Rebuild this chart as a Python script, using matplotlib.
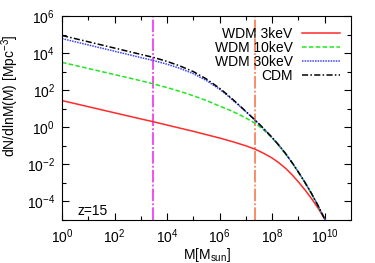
import numpy as np
import matplotlib
matplotlib.use("Agg")
import matplotlib.pyplot as plt
from matplotlib.ticker import FixedLocator, FixedFormatter

plt.rcParams["font.family"] = ["Liberation Sans", "DejaVu Sans"]
plt.rcParams["mathtext.default"] = "regular"

# log10 of mass [Msun] and log10 of dN/dlnM [Mpc^-3]
log_m = [0, 1, 2, 3, 3.5, 4, 4.5, 5, 5.5, 6, 6.25, 6.5, 6.75, 7, 7.25, 7.5, 7.75,
         8, 8.25, 8.5, 8.75, 9, 9.25, 9.5, 9.75, 10, 10.25]

log_cdm   = [4.95, 4.61, 4.27, 3.93, 3.76, 3.55, 3.30, 3.00, 2.60, 2.10, 1.81, 1.50, 1.18,
             0.85, 0.52, 0.18, -0.18, -0.55, -0.96, -1.40, -1.89, -2.42, -2.98, -3.58,
             -4.24, -4.95, -5.75]
log_wdm30 = [4.78, 4.44, 4.10, 3.76, 3.59, 3.40, 3.17, 2.89, 2.52, 2.05, 1.77, 1.47, 1.16,
             0.84, 0.51, 0.17, -0.19, -0.56, -0.96, -1.40, -1.89, -2.42, -2.98, -3.58,
             -4.24, -4.95, -5.75]
log_wdm10 = [3.50, 3.17, 2.84, 2.51, 2.33, 2.14, 1.93, 1.70, 1.44, 1.14, 1.00, 0.85, 0.68,
             0.50, 0.30, 0.06, -0.24, -0.58, -0.98, -1.42, -1.90, -2.43, -2.99, -3.59,
             -4.25, -4.96, -5.76]
log_wdm3  = [1.44, 1.11, 0.78, 0.45, 0.29, 0.12, -0.05, -0.22, -0.40, -0.58, -0.68, -0.78,
             -0.89, -1.00, -1.13, -1.28, -1.46, -1.66, -1.91, -2.20, -2.55, -2.95, -3.38,
             -3.85, -4.37, -4.95, -5.60]

labels = ["WDM 3keV", "WDM 10keV", "WDM 30keV", "CDM"]

# vertical marker masses
m_line1 = 2.9e3
m_line2 = 2.2e7

fig = plt.figure(figsize=(3.75, 2.63), dpi=100)
ax = fig.add_axes([0.1653, 0.1635, 0.7707, 0.7757])

M = 10.0 ** np.array(log_m)
ax.axvline(m_line1, color="#f040f0", lw=1.3, ls=(0, (7, 1.2, 1, 1.2)))
ax.axvline(m_line2, color="#f8845e", lw=1.3, ls=(0, (7, 1.2, 1, 1.2)))

ax.plot(M, 10.0 ** np.array(log_wdm3), color="#ff2a2a", lw=1.1, label=labels[0])
ax.plot(M, 10.0 ** np.array(log_wdm10), color="#22e622", lw=1.1, ls=(0, (3, 1.5)), label=labels[1])
ax.plot(M, 10.0 ** np.array(log_wdm30), color="#3a44ff", lw=1.1, ls=(0, (1, 0.7)), label=labels[2])
ax.plot(M, 10.0 ** np.array(log_cdm), color="black", lw=1.1, ls=(0, (4, 1.5, 1, 1.5)), label=labels[3])

ax.set_xscale("log")
ax.set_yscale("log")
ax.set_xlim(1, 1e11)
ax.set_ylim(1e-5, 1e6)

xmaj = [0, 2, 4, 6, 8, 10]
ymaj = [-4, -2, 0, 2, 4, 6]
ax.xaxis.set_major_locator(FixedLocator([10.0 ** e for e in xmaj]))
ax.xaxis.set_major_formatter(FixedFormatter([f"$10^{{{e}}}$" for e in xmaj]))
ax.xaxis.set_minor_locator(FixedLocator([10.0 ** e for e in range(1, 11, 2)]))
ax.xaxis.set_minor_formatter(FixedFormatter([""] * 5))
ax.yaxis.set_major_locator(FixedLocator([10.0 ** e for e in ymaj]))
ax.yaxis.set_major_formatter(FixedFormatter([f"$10^{{{e}}}$" for e in ymaj]))
ax.yaxis.set_minor_locator(FixedLocator([10.0 ** e for e in range(-5, 6, 2)]))
ax.yaxis.set_minor_formatter(FixedFormatter([""] * 6))

ax.tick_params(which="both", direction="in", top=True, right=True, labelsize=10)
ax.tick_params(which="major", length=5, width=0.8, pad=5)
ax.tick_params(which="minor", length=3, width=0.8)

ax.set_xlabel("M[M$_{sun}$]", fontsize=10, labelpad=0)
ax.set_ylabel("dN/dlnM(M) [Mpc$^{-3}$]", fontsize=10)
ax.yaxis.set_label_coords(-0.142, 0.61)

ax.text(0.052, 0.044, "z=15", transform=ax.transAxes, fontsize=10, va="center")

ax.legend(loc="upper right", bbox_to_anchor=(1.0, 1.0), frameon=False, markerfirst=False,
          fontsize=10, handlelength=2.75, handletextpad=0.65, labelspacing=0.0,
          borderaxespad=0.3, borderpad=0.5)

fig.savefig("out.png", dpi=100)
